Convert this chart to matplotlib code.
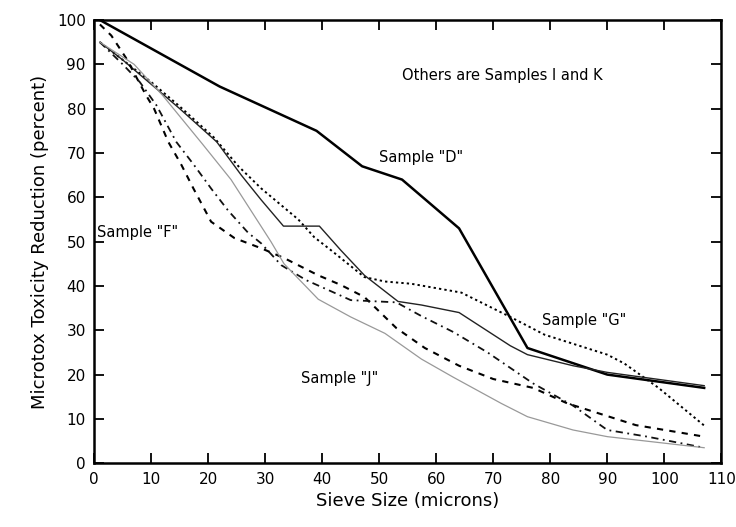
import matplotlib.pyplot as plt

# Sample "D" (heavy solid)
d_x = [1, 22, 39, 47, 54, 64, 76, 90, 107]
d_y = [100, 85, 75, 67, 64, 53, 26, 20, 17]

# Sample "G" (dotted)
g_x = [1, 5, 10, 15, 21, 25.3, 29.3, 35.8, 38.6, 41.6, 47.4, 51, 55.6, 64.4, 73, 79, 90, 93, 99, 107]
g_y = [95, 91, 86, 80.5, 73.5, 67, 62, 55, 51, 48, 42, 41, 40.5, 38.5, 33, 29, 24.5, 22.5, 17, 8.5]

# Sample "I" (thin solid, with the flat step)
i_x = [1, 5, 10, 15, 21.5, 25.8, 29.3, 33.2, 39.5, 43.3, 47.4, 53.3, 57.4, 64, 73, 76, 84, 90, 107]
i_y = [95, 91, 85.5, 80, 72.5, 65, 59.4, 53.5, 53.5, 48, 42.4, 36.5, 35.7, 34, 26.5, 24.5, 22, 20.5, 17.5]

# Sample "F" (dashed)
f_x = [1, 3, 5.6, 9.1, 10.5, 13, 15.3, 17.4, 19.6, 20.5, 24.6, 29.3, 33.3, 39.3, 43.3, 47.4, 53, 58, 64, 70, 77, 83, 95, 107]
f_y = [99, 96.5, 91.4, 83, 80, 72.5, 67.3, 62, 56.7, 54.5, 50.8, 48.5, 46.3, 42.4, 40.2, 37.5, 30.5, 26, 22, 19, 17, 13.5, 8.6, 6]

# Sample "K" (dash-dot)
k_x = [1, 5, 8, 10.9, 14.4, 17.5, 20.5, 23.5, 27, 29.3, 32.8, 37.2, 41.2, 45, 53, 57.4, 63, 69, 77, 84, 90, 97, 107]
k_y = [95, 90, 86, 80.8, 72.5, 67.3, 62, 57, 52, 49.6, 44.7, 41.3, 39, 36.8, 36.3, 33.2, 29.6, 25, 18, 13, 7.5, 6, 3.5]

# Sample "J" (light line)
j_x = [1, 7, 12, 19, 24, 27.5, 31, 33.3, 39.3, 45, 51, 57.4, 63, 71.4, 76, 84, 90, 107]
j_y = [95, 90, 83, 72, 64, 57, 50, 45, 37, 33, 29.3, 23.5, 19.4, 13.5, 10.5, 7.5, 6, 3.5]

fig = plt.figure(figsize=(7.36, 5.27), dpi=100)
ax = fig.add_axes([0.128, 0.121, 0.852, 0.841])

ax.plot(d_x, d_y, color='black', lw=1.8)
ax.plot(g_x, g_y, color='black', lw=1.4, ls=(0, (1.2, 1.6)))
ax.plot(i_x, i_y, color='#222222', lw=1.0)
ax.plot(f_x, f_y, color='black', lw=1.5, ls=(0, (3, 3)))
ax.plot(k_x, k_y, color='#111111', lw=1.3, ls=(0, (4, 2.5, 1, 2.5)))
ax.plot(j_x, j_y, color='#999999', lw=0.9)

ax.set_xlim(0, 110)
ax.set_ylim(0, 100)
ax.set_xticks(range(0, 111, 10))
ax.set_yticks(range(0, 101, 10))
ax.tick_params(direction='in', length=7, width=1.3, top=True, right=True,
               labelsize=11, pad=6)
for s in ax.spines.values():
    s.set_linewidth(1.8)

ax.set_xlabel('Sieve Size (microns)', fontsize=13)
ax.set_ylabel('Microtox Toxicity Reduction (percent)', fontsize=13, labelpad=6)

ax.text(54, 87.5, 'Others are Samples I and K', fontsize=10.5, va='center')
ax.text(50, 69, 'Sample "D"', fontsize=10.5, va='center')
ax.text(0.5, 52, 'Sample "F"', fontsize=10.5, va='center')
ax.text(78.5, 32.3, 'Sample "G"', fontsize=10.5, va='center')
ax.text(36.3, 19.2, 'Sample "J"', fontsize=10.5, va='center')

fig.savefig('out.png', dpi=100)
